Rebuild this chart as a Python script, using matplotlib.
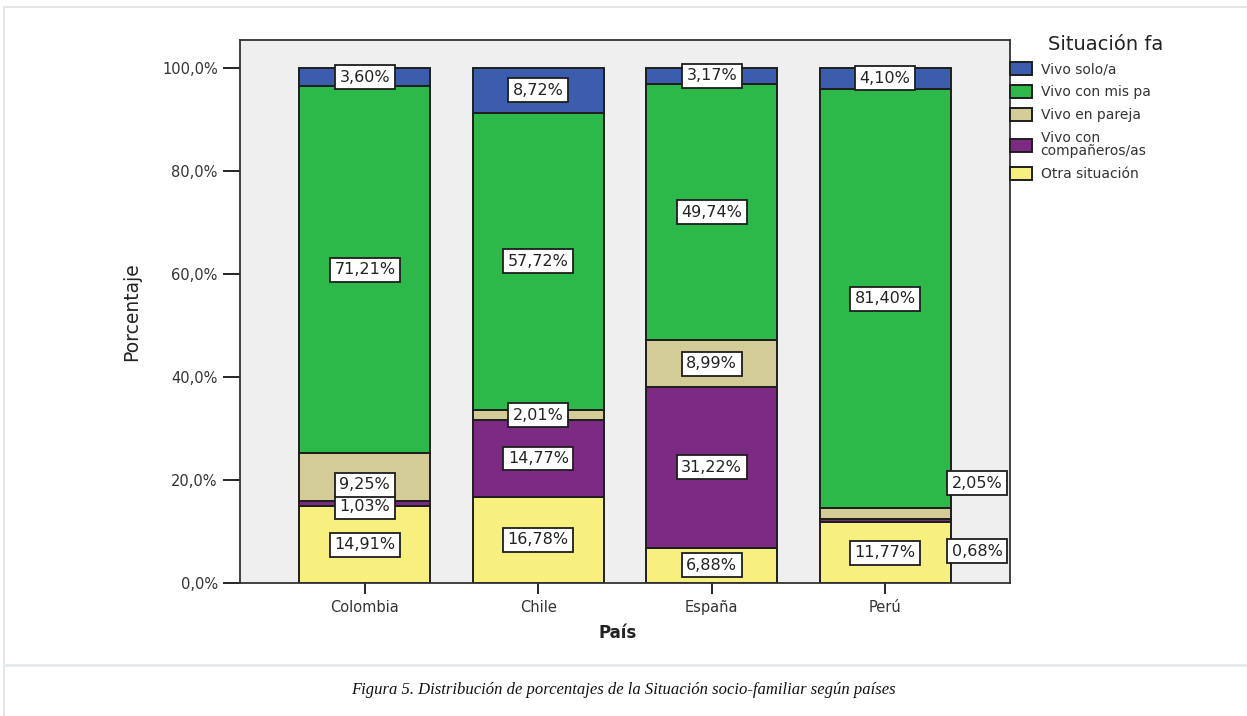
import numpy as np
import matplotlib.pyplot as plt
from matplotlib.patches import Rectangle
from matplotlib.lines import Line2D

# datos (porcentajes por país, de abajo hacia arriba)
paises = ["Colombia", "Chile", "España", "Perú"]
otra = [14.91, 16.78, 6.88, 11.77]
companeros = [1.03, 14.77, 31.22, 0.68]
pareja = [9.25, 2.01, 8.99, 2.05]
padres = [71.21, 57.72, 49.74, 81.40]
solo = [3.60, 8.72, 3.17, 4.10]

series = [otra, companeros, pareja, padres, solo]
nombres = ["Otra situación", "Vivo con\ncompañeros/as", "Vivo en pareja",
           "Vivo con mis pa", "Vivo solo/a"]
colores = ["#F7F07F", "#7D2A84", "#D4CC96", "#2DB84A", "#3C5DAE"]
yticks = [0, 20, 40, 60, 80, 100]
ytick_labels = ["0,0%", "20,0%", "40,0%", "60,0%", "80,0%", "100,0%"]

# desplazamientos de etiquetas (serie, pais) -> (dx, dy)
label_shift = {(2, 0): (0, -1.5), (1, 0): (0, -0.6),
               (2, 3): (0.53, 5.9), (1, 3): (0.53, -5.9)}

W, H = 1247, 716
fig = plt.figure(figsize=(W / 100, H / 100), dpi=100)
fig.patch.set_facecolor("white")

# marco exterior de la página
fig.patches.append(Rectangle((4 / W, -0.1), 1.2, 1 - 7 / H + 0.1,
                             transform=fig.transFigure, fill=False,
                             edgecolor="#E2E2E2", lw=1.2))
fig.lines.append(Line2D([4 / W, 1], [1 - 665 / H] * 2, transform=fig.transFigure,
                        color="#E4E9EE", lw=2))

ax = fig.add_axes([240 / W, (H - 583) / H, 770 / W, 543 / H])
ax.set_facecolor("#EFEFEF")

x = np.arange(len(paises))
bottom = np.zeros(len(paises))
handles = []
for i, vals in enumerate(series):
    vals = np.array(vals)
    b = ax.bar(x, vals, 0.756, bottom=bottom, color=colores[i],
               edgecolor="#1E1E1E", linewidth=1.4, label=nombres[i])
    handles.append(b)
    for j, v in enumerate(vals):
        dx, dy = label_shift.get((i, j), (0, 0))
        ax.text(x[j] + dx, bottom[j] + v / 2 + dy, f"{v:.2f}%".replace(".", ","),
                ha="center", va="center", fontsize=11.5, color="#222222",
                bbox=dict(boxstyle="square,pad=0.28", fc="white",
                          ec="#1E1E1E", lw=1.3), zorder=5, clip_on=False)
    bottom += vals

ax.set_xlim(-0.72, 3.72)
ax.set_ylim(0, 105.4)
ax.set_yticks(yticks)
ax.set_yticklabels(ytick_labels)
ax.set_xticks(x)
ax.set_xticklabels(paises)
ax.tick_params(axis="y", length=12, width=1.2, labelsize=10.5, labelcolor="#333333", pad=4)
ax.tick_params(axis="x", length=8, width=1.2, labelsize=10.5, labelcolor="#333333", pad=4)
for s in ax.spines.values():
    s.set_color("#333333")
    s.set_linewidth(1.3)

ax.set_ylabel("Porcentaje", fontsize=13.5, color="#222222")
ax.yaxis.set_label_coords(-0.128, 0.5)
ax.set_xlabel("País", fontsize=12, fontweight="bold", color="#222222")
ax.xaxis.set_label_coords(0.49, -0.076)

# leyenda
fig.text(1048 / W, 1 - 45 / H, "Situación fa", fontsize=14, color="#222222",
         ha="left", va="center")
leg = ax.legend(handles[::-1], nombres[::-1], loc="upper left",
                bbox_to_anchor=(1010 / W, 1 - 62 / H), bbox_transform=fig.transFigure,
                frameon=False, borderpad=0, borderaxespad=0, fontsize=10,
                handlelength=1.6, handleheight=1.1, handletextpad=0.6,
                labelspacing=0.62)
for t in leg.get_texts():
    t.set_color("#333333")
    t.set_linespacing(0.9)

fig.text(0.5, 1 - 690 / H,
         "Figura 5. Distribución de porcentajes de la Situación socio-familiar según países",
         fontsize=12, family="Liberation Serif", style="italic", ha="center", va="center",
         color="#111111")

fig.savefig("out.png", dpi=100)
